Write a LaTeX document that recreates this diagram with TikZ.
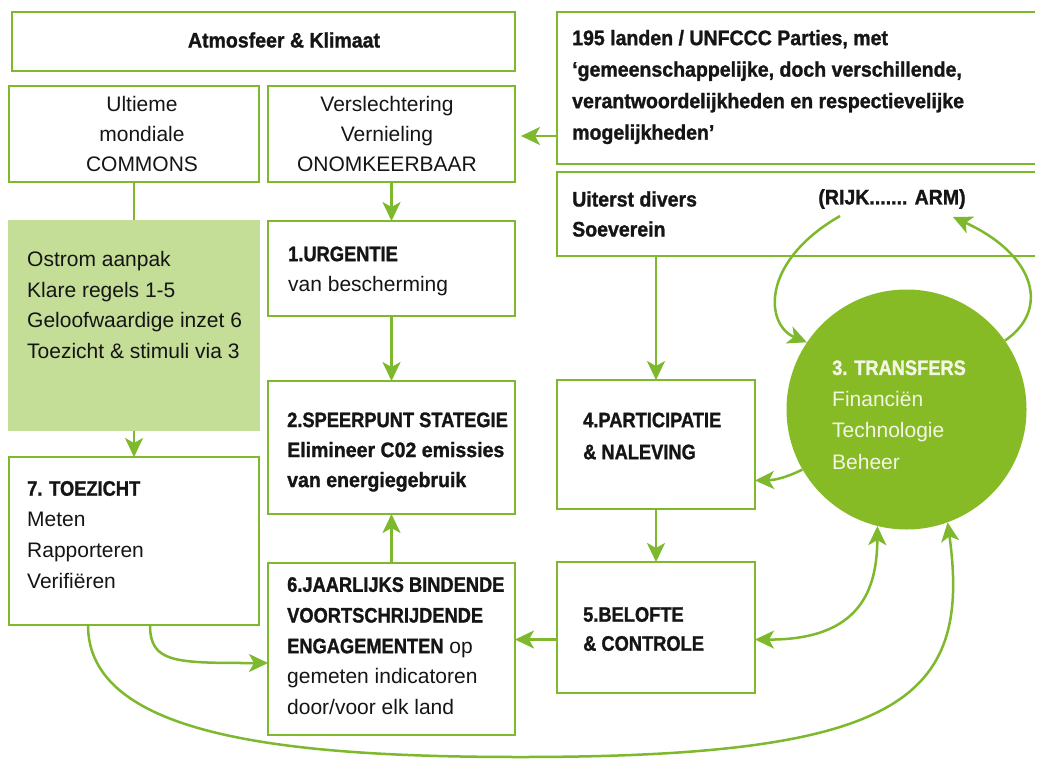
\documentclass[tikz,border=0pt]{standalone}
\usepackage{fontspec}
\setmainfont{Liberation Sans}[BoldFeatures={FakeStretch=0.93,FakeBold=1.2}]
\newfontfamily\cbfam{Liberation Sans}[BoldFeatures={FakeStretch=0.87,FakeBold=1.2}]
\newcommand\cb{\cbfam\bfseries}
\usetikzlibrary{arrows.meta}
\definecolor{gline}{HTML}{7DB82D}
\definecolor{gfill}{HTML}{C4DD97}
\definecolor{gcirc}{HTML}{86BB26}
\definecolor{ink}{HTML}{151515}
\definecolor{ctext}{HTML}{F3F6E4}
\begin{document}
\begin{tikzpicture}[x=1pt,y=-1pt,
  box/.style={draw=gline,line width=2.8pt,fill=white,inner sep=0pt,outer sep=0pt,anchor=north west},
  openbox/.style={draw=none,fill=white,inner sep=0pt,outer sep=0pt,anchor=north west},
  edge/.style={draw=gline,line width=2.8pt},
  txt/.style={inner sep=0pt,text=ink,font=\fontsize{21}{30}\selectfont},
  conn/.style={draw=gline,line width=2.5pt},
  tip/.tip={Stealth[length=19pt,width=18pt,inset=5pt]},
  arr/.style={conn,-tip},
  darr/.style={conn,tip-tip}]
\fill[white] (0,0) rectangle (1038,760);
\useasboundingbox (0,0) rectangle (1038,760);
% boxes
\node[box,minimum width=503pt,minimum height=59pt] (atm) at (12,12) {};
\node[box,minimum width=250pt,minimum height=96pt] (ult) at (9,86) {};
\node[box,minimum width=247pt,minimum height=96pt] (ver) at (268,86) {};
\node[openbox,minimum width=478pt,minimum height=152pt] (unf) at (557,12) {};
\draw[edge] (unf.north east) -- (unf.north west) -- (unf.south west) -- (unf.south east);
\node[openbox,minimum width=478pt,minimum height=84pt] (uit) at (557,172) {};
\draw[edge] (uit.north east) -- (uit.north west) -- (uit.south west) -- (uit.south east);
\node[box,draw=none,fill=gfill,minimum width=252pt,minimum height=211pt] (ost) at (8,220) {};
\node[box,minimum width=247pt,minimum height=95pt] (urg) at (268,221) {};
\node[box,minimum width=247pt,minimum height=133pt] (spe) at (268,381) {};
\node[box,minimum width=250pt,minimum height=168pt] (toe) at (9,457) {};
\node[box,minimum width=198pt,minimum height=129pt] (par) at (557,380) {};
\node[box,minimum width=198pt,minimum height=131pt] (bel) at (557,562) {};
\node[box,minimum width=247pt,minimum height=172pt] (jaa) at (268,563) {};
\node[circle,fill=gcirc,minimum size=240pt,inner sep=0pt] (circ) at (906.5,409.5) {};
% named free ends
\coordinate (rk) at (840,216);
\coordinate (am) at (953,217);
\coordinate (b5w) at ([yshift=-12pt]bel.west);
\coordinate (b5e) at ([yshift=-12pt]bel.east);
\coordinate (p4e) at ([yshift=-36pt]par.east);
\coordinate (t7a) at ([xshift=-46pt]toe.south);
\coordinate (t7b) at ([xshift=16pt]toe.south);
\coordinate (j6w) at ([yshift=-14pt]jaa.west);
% connectors
\draw[conn] (ult.south) -- (ost.north);
\draw[arr] (ost.south) -- (toe.north);
\draw[arr] (ver.south) -- (urg.north);
\draw[arr] (urg.south) -- (spe.north);
\draw[arr] (jaa.north) -- (spe.south);
\draw[arr,shorten >=6pt] ([yshift=-2pt]unf.west |- ver.east) -- ([yshift=-2pt]ver.east);
\draw[arr] (par.north |- uit.south) -- (par.north);
\draw[arr] (par.south) -- (bel.north);
\draw[arr] (b5w) -- (b5w -| jaa.east);
\draw[arr] (circ.210) .. controls (785,478) and (775,480) .. (p4e);
\draw[darr] (b5e) .. controls (860,640) and (877,590) .. (circ.256);
\draw[arr] (t7a) .. controls (88,735) and (280,757) .. (520,757) .. controls (900,757) and (972,700) .. (circ.290);
\draw[arr] (t7b) .. controls (150,663) and (175,663) .. (j6w);
\draw[arr] (rk) .. controls (760,262) and (765,325) .. (circ.146);
\draw[arr] (circ.35) .. controls (1050,310) and (1036,255) .. (am);
% texts
\node[txt] (atmT) at (284,40) {\bfseries Atmosfeer \& Klimaat};
\node[txt,align=center] (ultT) at (142,134) {Ultieme\\mondiale\\COMMONS};
\node[txt,align=center] (verT) at (387,134) {Verslechtering\\Vernieling\\ONOMKEERBAAR};
\node[txt,align=left,anchor=west,font=\fontsize{21}{31.5}\selectfont\bfseries] (unfT) at (572,87) {195 landen / UNFCCC Parties, met\\‘gemeenschappelijke, doch verschillende,\\verantwoordelijkheden en respectievelijke\\mogelijkheden’};
\node[txt,align=left,anchor=west,font=\fontsize{21}{30}\selectfont\bfseries] (uitT) at (572,214) {Uiterst divers\\Soeverein};
\node[txt] (rijkT) at (892,199) {\bfseries (RIJK....... ARM)};
\node[txt,align=left,anchor=west,font=\fontsize{21}{30.7}\selectfont] (ostT) at (27,305) {Ostrom aanpak\\Klare regels 1-5\\Geloofwaardige inzet 6\\Toezicht \& stimuli via 3};
\node[txt,align=left,anchor=west] (urgT) at (288,271) {{\cb 1.URGENTIE}\\van bescherming};
\node[txt,align=left,anchor=west] (speT) at (287,452) {{\cb 2.SPEERPUNT STATEGIE}\\{\bfseries Elimineer C02 emissies}\\{\bfseries van energiegebruik}};
\node[txt,align=left,anchor=west,font=\fontsize{21}{31}\selectfont] (toeT) at (27,535) {{\cb 7. TOEZICHT}\\Meten\\Rapporteren\\Verifiëren};
\node[txt,align=left,anchor=west,font=\fontsize{21}{30.7}\selectfont] (jaaT) at (287,646) {{\cb 6.JAARLIJKS BINDENDE}\\{\cb VOORTSCHRIJDENDE}\\{\cb ENGAGEMENTEN} op\\gemeten indicatoren\\door/voor elk land};
\node[txt,align=left,anchor=west,font=\fontsize{21}{32}\selectfont] (parT) at (583,436) {{\cb 4.PARTICIPATIE}\\{\cb \& NALEVING}};
\node[txt,align=left,anchor=west,font=\fontsize{21}{29}\selectfont] (belT) at (583,629) {{\cb 5.BELOFTE}\\{\cb \& CONTROLE}};
\node[txt,align=left,anchor=west,text=ctext,font=\fontsize{21}{31.5}\selectfont] (circT) at (832,415) {{\cb 3. TRANSFERS}\\Financiën\\Technologie\\Beheer};
\end{tikzpicture}
\end{document}
